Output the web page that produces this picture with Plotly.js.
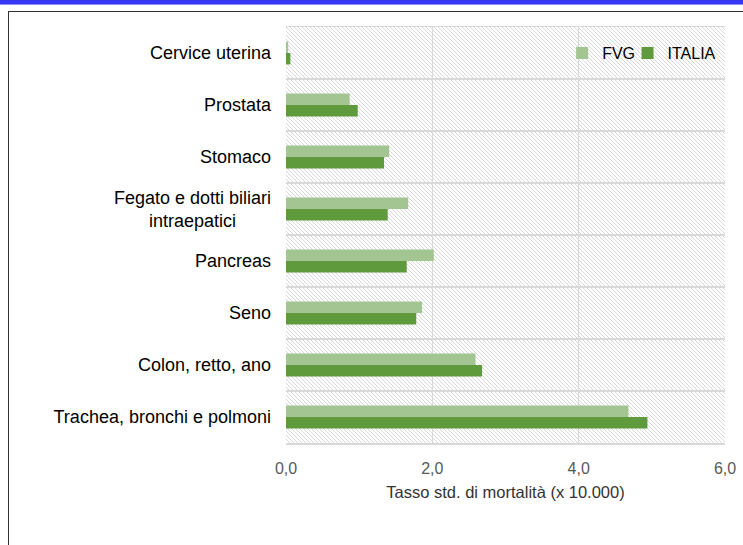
<!DOCTYPE html>
<html>
<head>
<meta charset="utf-8">
<script src="https://cdn.plot.ly/plotly-3.0.1.min.js"></script>
<style>
  html, body { margin: 0; padding: 0; background: #ffffff; }
  #wrap { position: relative; width: 743px; height: 545px; overflow: hidden; }
  #band { position: absolute; left: 0; top: 0; width: 743px; height: 4px; background: #3636f5; border-bottom: 1px solid #8c8cf7; }
  #frame { position: absolute; left: 8px; top: 11px; width: 760px; height: 560px; border-left: 1.5px solid #333; border-top: 1px solid #333; }
  #chart { position: absolute; left: 0; top: 0; width: 743px; height: 545px; }
</style>
</head>
<body>
<div id="wrap">
  <div id="band"></div>
  <div id="frame"></div>
  <div id="chart"></div>
</div>
<script>
const categories = [
  "Cervice uterina",
  "Prostata",
  "Stomaco",
  "Fegato e dotti biliari<br>intraepatici",
  "Pancreas",
  "Seno",
  "Colon, retto, ano",
  "Trachea, bronchi e polmoni"
];
const fvgValues    = [0.03, 0.87, 1.41, 1.67, 2.02, 1.86, 2.59, 4.68];
const italiaValues = [0.06, 0.98, 1.34, 1.39, 1.65, 1.78, 2.68, 4.94];
const seriesNames  = ["FVG", "ITALIA"];
const xTickVals    = [0, 2, 4, 6];

// centre the second line of the two-line label (visual only)
const tickText = categories.map(c => c.includes("<br>")
  ? c.replace("<br>intraepatici", "<br>intraepatici" + "\u00a0".repeat(7))
  : c);

const hatch = 'data:image/svg+xml;charset=utf-8,' + encodeURIComponent(
  '<svg xmlns="http://www.w3.org/2000/svg" width="439" height="416" preserveAspectRatio="none">' +
  '<defs><pattern id="p" width="4" height="4" patternUnits="userSpaceOnUse">' +
  '<path d="M-1,-1 L5,5 M-1,3 L1,5 M3,-1 L5,1" stroke="#d4d4d4" stroke-width="0.9"/>' +
  '</pattern></defs><rect width="439" height="416" fill="#ffffff"/><rect width="439" height="416" fill="url(#p)"/></svg>');

const traces = [
  {
    type: "bar", orientation: "h", name: seriesNames[0],
    y: categories, x: fvgValues,
    marker: { color: "#a3c592" },
    legend: "legend", showlegend: true,
    hoverinfo: "x+name"
  },
  {
    type: "bar", orientation: "h", name: seriesNames[1],
    y: categories, x: italiaValues,
    marker: { color: "#5f9a3d" },
    legend: "legend2", showlegend: true,
    hoverinfo: "x+name"
  }
];

const legendStyle = {
  orientation: "h", y: 0.978, xanchor: "left", yanchor: "top",
  bgcolor: "rgba(0,0,0,0)",
  font: { size: 16, color: "#000" }
};

const layout = {
  width: 743, height: 545,
  showlegend: true,
  margin: { l: 286, r: 18, t: 27, b: 102 },
  paper_bgcolor: "rgba(0,0,0,0)",
  plot_bgcolor: "rgba(0,0,0,0)",
  separators: ",.",
  barmode: "group",
  bargap: 0.56,
  bargroupgap: 0,
  font: { family: "Liberation Sans, Arial, sans-serif", color: "#000" },
  xaxis: {
    range: [0, 6],
    tickvals: xTickVals,
    tickformat: ".1f",
    showgrid: true, gridcolor: "#d9d9d9", gridwidth: 1.5,
    zeroline: false,
    showline: true, mirror: true, linecolor: "#d9d9d9", linewidth: 1.5,
    ticks: "",
    ticklabelstandoff: 10,
    tickfont: { size: 16, color: "#595959" },
    title: { text: "Tasso std. di mortalità (x 10.000)", font: { size: 16.5, color: "#333333" }, standoff: 10 }
  },
  yaxis: {
    type: "category",
    autorange: "reversed",
    tickmode: "array",
    tickvals: categories,
    ticktext: tickText,
    tickson: "boundaries",
    showgrid: true, gridcolor: "#d9d9d9", gridwidth: 1.5,
    zeroline: false,
    showline: false,
    ticks: "",
    ticklabelstandoff: 14,
    tickfont: { size: 18, color: "#000" }
  },
  legend: Object.assign({}, legendStyle, { x: 0.629 }),
  legend2: Object.assign({}, legendStyle, { x: 0.778 }),
  images: [{
    source: hatch, xref: "paper", yref: "paper",
    x: 0, y: 1, sizex: 1, sizey: 1,
    xanchor: "left", yanchor: "top",
    sizing: "stretch", layer: "below"
  }]
};

Plotly.newPlot("chart", traces, layout, { displayModeBar: false, staticPlot: true });
</script>
</body>
</html>
